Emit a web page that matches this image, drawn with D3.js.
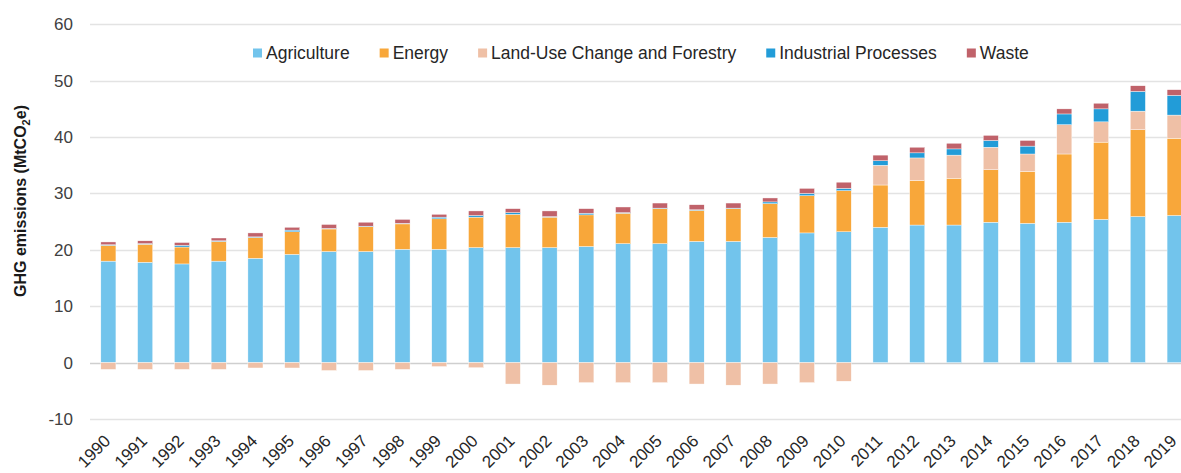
<!DOCTYPE html>
<html>
<head>
<meta charset="utf-8">
<script src="https://cdn.jsdelivr.net/npm/d3@7"></script>
<style>
  body { margin: 0; background: #fff; }
  svg { display: block; font-family: "Liberation Sans", Arial, sans-serif; }
</style>
</head>
<body>
<div id="chart"></div>
<script>
// chart data
var years = ["1990","1991","1992","1993","1994","1995","1996","1997","1998","1999",
             "2000","2001","2002","2003","2004","2005","2006","2007","2008","2009",
             "2010","2011","2012","2013","2014","2015","2016","2017","2018","2019"];

var agriculture = [18.0,17.8,17.5,18.0,18.5,19.2,19.7,19.7,20.1,20.1,
                   20.4,20.4,20.4,20.6,21.1,21.1,21.5,21.5,22.2,23.0,
                   23.2,24.0,24.4,24.4,24.9,24.7,24.9,25.4,25.9,26.1];
var energy = [2.8,3.2,3.0,3.5,3.7,4.0,4.0,4.4,4.5,5.4,
              5.4,5.9,5.4,5.6,5.4,6.2,5.5,5.8,6.0,6.6,
              7.3,7.5,7.9,8.3,9.3,9.2,12.1,13.7,15.4,13.7];
var landUse = [-1.2,-1.2,-1.2,-1.2,-0.95,-0.95,-1.4,-1.4,-1.2,-0.7,
               -0.9,-3.8,-4.0,-3.55,-3.55,-3.55,-3.8,-4.0,-3.8,-3.55,
               -3.3,3.5,4.0,4.1,4.0,3.1,5.2,3.6,3.3,4.1];
var industrial = [0.1,0.1,0.3,0.1,0.1,0.3,0.1,0.1,0.1,0.3,
                  0.3,0.3,0.1,0.3,0.1,0.1,0.1,0.1,0.3,0.4,
                  0.4,0.8,0.9,1.1,1.2,1.4,1.9,2.3,3.5,3.5];
var waste = [0.5,0.5,0.5,0.5,0.7,0.5,0.7,0.7,0.7,0.5,
             0.8,0.7,1.0,0.8,1.0,0.9,0.9,0.9,0.7,0.9,
             1.1,1.0,1.0,1.0,0.9,1.0,0.9,1.0,1.0,1.0];

var seriesNames = ["Agriculture", "Energy", "Land-Use Change and Forestry", "Industrial Processes", "Waste"];
var seriesValues = [agriculture, energy, landUse, industrial, waste];
var seriesColors = ["#72c4ec", "#f8a73a", "#efc0a6", "#229cd8", "#c0626a"];
var yTicks = [-10, 0, 10, 20, 30, 40, 50, 60];

var width = 1181, height = 473;

var svg = d3.select("#chart").append("svg")
    .attr("width", width)
    .attr("height", height);

// rows for the stack
var rows = years.map(function(y, i) {
    var row = { year: y };
    seriesNames.forEach(function(name, k) { row[name] = seriesValues[k][i]; });
    return row;
});

var stacked = d3.stack()
    .keys(seriesNames)
    .offset(d3.stackOffsetDiverging)(rows);

// scales (plot runs off the right edge, like the original)
var x = d3.scaleBand()
    .domain(years)
    .range([90, 1193])
    .paddingInner(0.59)
    .paddingOuter(0.295);

var y = d3.scaleLinear()
    .domain([-10, 60])
    .range([419, 24.3]);

var color = d3.scaleOrdinal().domain(seriesNames).range(seriesColors);

// gridlines
svg.append("g")
    .selectAll("line")
    .data(yTicks)
    .enter().append("line")
    .attr("x1", 90)
    .attr("x2", width)
    .attr("y1", function(d) { return Math.round(y(d)) + 0.5; })
    .attr("y2", function(d) { return Math.round(y(d)) + 0.5; })
    .attr("stroke", function(d) { return d === 0 ? "#cfcfcf" : "#e3e3e3"; })
    .attr("stroke-width", 1.5);

// y axis labels (plain hyphen for the minus, as in the original)
var yAxis = d3.axisLeft(y)
    .tickValues(yTicks)
    .tickSize(0)
    .tickPadding(0)
    .tickFormat(function(d) { return String(d); });

svg.append("g")
    .attr("transform", "translate(73,0)")
    .call(yAxis)
    .call(function(g) { g.select(".domain").remove(); })
    .selectAll("text")
    .attr("font-family", "Liberation Sans, Arial, sans-serif")
    .attr("font-size", "17px")
    .attr("fill", "#404040");

// y axis title
var title = svg.append("text")
    .attr("transform", "translate(26,201) rotate(-90)")
    .attr("text-anchor", "middle")
    .attr("font-size", "16px")
    .attr("font-weight", "bold")
    .attr("fill", "#1a1a1a");
title.append("tspan").text("GHG emissions (MtCO");
title.append("tspan").attr("dy", 4).attr("font-size", "11px").text("2");
title.append("tspan").attr("dy", -4).text("e)");

// bars
svg.append("g")
    .selectAll("g")
    .data(stacked)
    .enter().append("g")
    .attr("fill", function(d) { return color(d.key); })
    .selectAll("rect")
    .data(function(d) { return d; })
    .enter().append("rect")
    .attr("x", function(d) { return x(d.data.year); })
    .attr("width", x.bandwidth())
    .attr("y", function(d) { return y(Math.max(d[0], d[1])); })
    .attr("height", function(d) { return Math.abs(y(d[0]) - y(d[1])); })
    .attr("stroke", "#fff")
    .attr("stroke-width", 0.4);

// x axis labels, rotated
var xAxis = d3.axisBottom(x).tickSize(0).tickPadding(0);
svg.append("g")
    .attr("transform", "translate(0,419)")
    .call(xAxis)
    .call(function(g) { g.select(".domain").remove(); })
    .selectAll("text")
    .attr("font-family", "Liberation Sans, Arial, sans-serif")
    .attr("font-size", "17px")
    .attr("fill", "#262626")
    .attr("text-anchor", "end")
    .attr("dy", 0)
    .attr("transform", "translate(3,23) rotate(-45)");

// legend
var legend = svg.append("g").attr("transform", "translate(253,53)");
var lx = 0;
seriesNames.forEach(function(name, k) {
    var item = legend.append("g").attr("transform", "translate(" + lx + ",0)");
    item.append("rect")
        .attr("x", 0).attr("y", -4.5)
        .attr("width", 9).attr("height", 9)
        .attr("fill", seriesColors[k]);
    var t = item.append("text")
        .attr("x", 13)
        .attr("dy", "0.35em")
        .attr("font-size", "17.5px")
        .attr("fill", "#262626")
        .text(name);
    lx += 13 + t.node().getComputedTextLength() + 30;
});
</script>
</body>
</html>
